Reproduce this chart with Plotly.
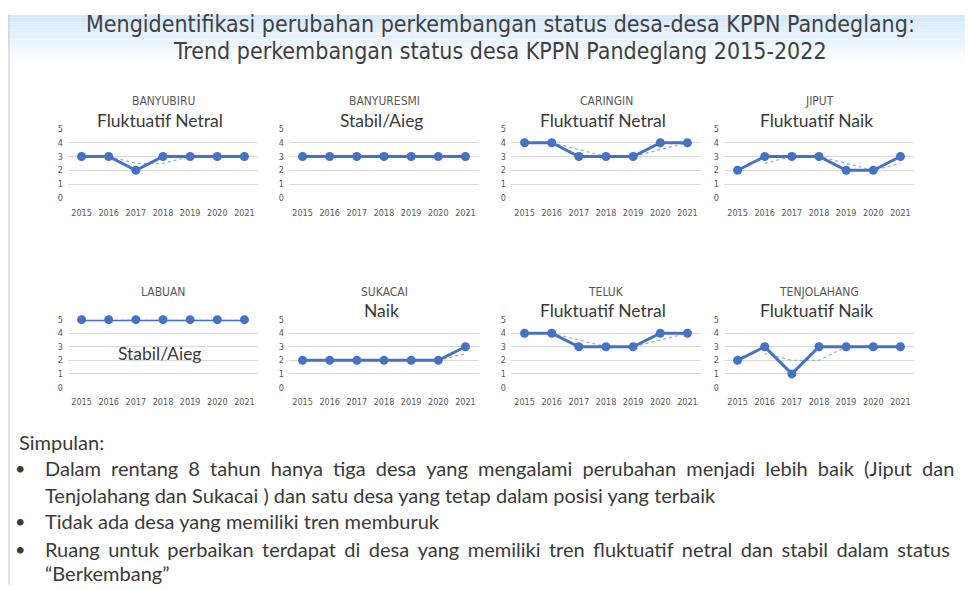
import pandas as pd
import plotly.graph_objects as go

years = ['2015', '2016', '2017', '2018', '2019', '2020', '2021']
desa = ['BANYUBIRU', 'BANYURESMI', 'CARINGIN', 'JIPUT',
        'LABUAN', 'SUKACAI', 'TELUK', 'TENJOLAHANG']
status = {
    'BANYUBIRU': [3, 3, 2, 3, 3, 3, 3],
    'BANYURESMI': [3, 3, 3, 3, 3, 3, 3],
    'CARINGIN': [4, 4, 3, 3, 3, 4, 4],
    'JIPUT': [2, 3, 3, 3, 2, 2, 3],
    'LABUAN': [5, 5, 5, 5, 5, 5, 5],
    'SUKACAI': [2, 2, 2, 2, 2, 2, 3],
    'TELUK': [4, 4, 3, 3, 3, 4, 4],
    'TENJOLAHANG': [2, 3, 1, 3, 3, 3, 3],
}
keterangan = ['Fluktuatif Netral', 'Stabil/Aieg', 'Fluktuatif Netral', 'Fluktuatif Naik',
              'Stabil/Aieg', 'Naik', 'Fluktuatif Netral', 'Fluktuatif Naik']

judul = ['Mengidentifikasi perubahan perkembangan status desa-desa KPPN Pandeglang:',
         'Trend perkembangan status desa KPPN Pandeglang 2015-2022']
simpulan = [
    ('', 'Simpulan:', ''),
    ('•', 'Dalam rentang 8 tahun hanya tiga desa yang mengalami perubahan menjadi lebih baik (Jiput dan', '\u2009\u2009'),
    ('', 'Tenjolahang dan Sukacai ) dan satu desa yang tetap dalam posisi yang terbaik', ''),
    ('•', 'Tidak ada desa yang memiliki tren memburuk', ''),
    ('•', 'Ruang untuk perbaikan terdapat di desa yang memiliki tren fluktuatif netral dan stabil dalam status', '\u2006'),
    ('', '“Berkembang”', ''),
]

# page body has an 8px margin, so the figure is drawn 8px in
OFF = 8
W, H = 973 - OFF, 590 - OFF
def px(x):
    return (x - OFF) / W
def py(y):
    return 1 - (y - OFF) / H

narrow = 'Liberation Sans Narrow, DejaVu Sans Condensed, Roboto, sans-serif'
body = 'Lato, Open Sans, sans-serif'
col_x = [68, 289, 511, 724]
col_w = 190
row_y = [(126, 196), (320, 389)]

fig = go.Figure()
annotations = []
shapes = []

# header gradient
for k in range(20):
    t = k / 19
    r = int(212 + (255 - 212) * t)
    g = int(232 + (255 - 232) * t)
    shapes.append(dict(type='rect', xref='paper', yref='paper', x0=0, x1=1,
                       y0=max(0, py(10 + 2.5 * (k + 1))), y1=min(1, py(10 + 2.5 * k)),
                       fillcolor='rgb(%d,%d,255)' % (r, g), line_width=0, layer='below'))
shapes.append(dict(type='line', xref='paper', yref='paper', x0=0.001, x1=0.001,
                   y0=0, y1=py(10), line=dict(color='#c8c8c8', width=1)))

for i, nama in enumerate(desa):
    row, col = i // 4, i % 4
    n = i + 1
    xa = 'x' if n == 1 else 'x%d' % n
    ya = 'y' if n == 1 else 'y%d' % n
    vals = status[nama]
    tren = pd.Series(vals).rolling(2).mean()
    fig.add_trace(go.Scatter(x=years[1:], y=tren[1:], mode='lines', xaxis=xa, yaxis=ya,
                             line=dict(color='#8eaadb', width=1.2, dash='dot'),
                             showlegend=False, hoverinfo='skip'))
    fig.add_trace(go.Scatter(x=years, y=vals, mode='lines+markers', xaxis=xa, yaxis=ya,
                             line=dict(color='#4472c4', width=3),
                             marker=dict(size=9, color='#4472c4'),
                             cliponaxis=False, showlegend=False))
    x0 = col_x[col]
    top, bot = row_y[row]
    fig.layout['xaxis' + ('' if n == 1 else str(n))] = dict(
        domain=[px(x0), px(x0 + col_w)], anchor=ya, type='category',
        categoryorder='array', categoryarray=years,
        range=[-0.5, 6.5], showgrid=False, showline=False, zeroline=False,
        ticks='', ticklabelstandoff=8,
        tickfont=dict(family=narrow, size=9, color='#595959'))
    fig.layout['yaxis' + ('' if n == 1 else str(n))] = dict(
        domain=[py(bot), py(top)], anchor=xa, range=[0, 5], dtick=1,
        showgrid=True, gridcolor='#d9d9d9', gridwidth=1, zeroline=False,
        showline=False, ticks='', ticklabelstandoff=4,
        tickfont=dict(family=narrow, size=9, color='#595959'))
    cx = px(x0 + col_w / 2)
    annotations.append(dict(text=nama, x=cx, y=py(top - 28), xref='paper', yref='paper',
                            showarrow=False, xanchor='center', yanchor='middle',
                            font=dict(family=narrow, size=12, color='#595959')))
    if nama == 'LABUAN':
        ky = 354
    else:
        ky = top - 9
    annotations.append(dict(text=keterangan[i], x=cx - 3 / W, y=py(ky), xref='paper', yref='paper',
                            showarrow=False, xanchor='center', yanchor='middle',
                            font=dict(family=body, size=17.5, color='#3a3a3a')))

for j, baris in enumerate(judul):
    annotations.append(dict(text=baris, x=px(500), y=py(19 + 28 * j), xref='paper', yref='paper',
                            showarrow=False, xanchor='center', yanchor='middle',
                            font=dict(family=narrow, size=23, color='#404040')))

baris_y = [445, 471, 498, 525, 553, 578]
for (bullet, teks, sela), yy in zip(simpulan, baris_y):
    tx = 17 if teks == 'Simpulan:' else 43
    if sela:
        teks = teks.replace(' ', ' ' + sela)
    annotations.append(dict(text=teks, x=px(tx), y=py(yy), xref='paper', yref='paper',
                            showarrow=False, xanchor='left', yanchor='middle',
                            font=dict(family=body, size=20, color='#3a3a3a')))
    if bullet:
        annotations.append(dict(text=bullet, x=px(20), y=py(yy), xref='paper', yref='paper',
                                showarrow=False, xanchor='center', yanchor='middle',
                                font=dict(family=body, size=18, color='#3a3a3a')))

fig.update_layout(width=W, height=H, margin=dict(l=0, r=0, t=0, b=0),
                  paper_bgcolor='white', plot_bgcolor='rgba(0,0,0,0)',
                  annotations=annotations, shapes=shapes)
fig.write_html('out.html')
